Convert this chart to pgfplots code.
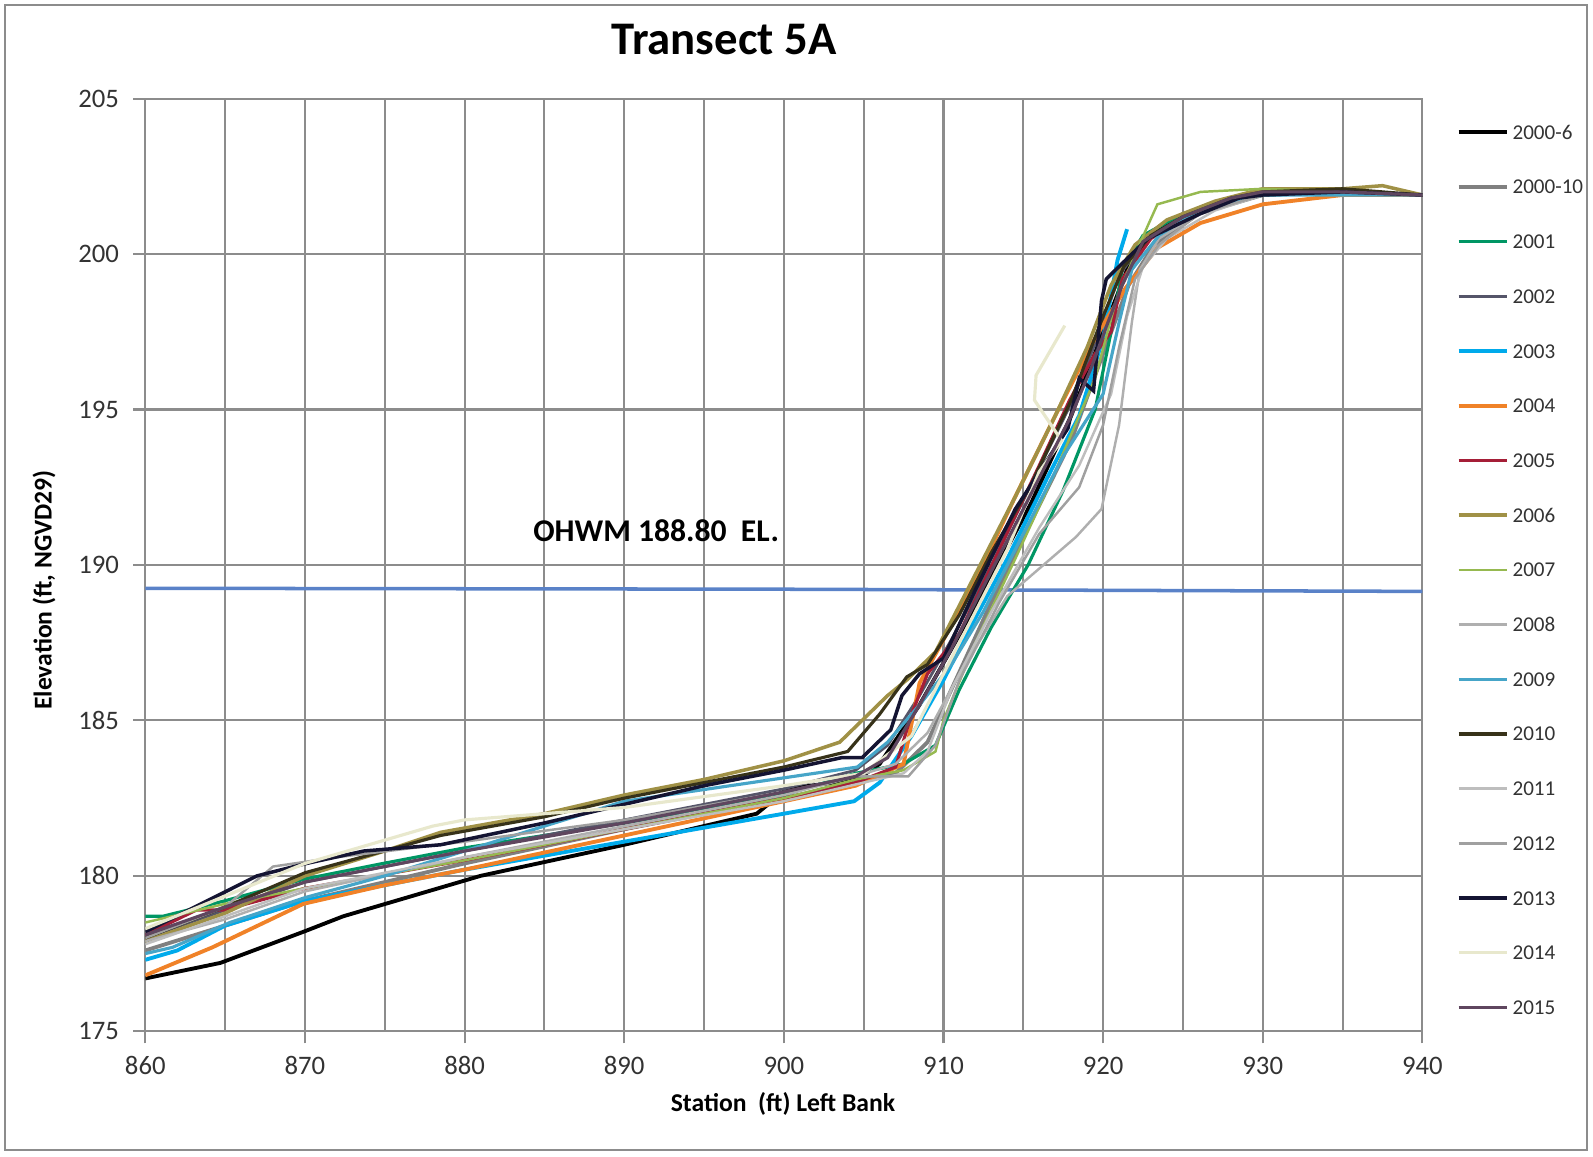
\documentclass[border=0pt]{standalone}
\usepackage{fontspec}
\setmainfont{Carlito}
\usepackage{pgfplots}
\pgfplotsset{compat=1.18}
\definecolor{cA}{RGB}{0,0,0}
\definecolor{cB}{RGB}{128,128,128}
\definecolor{cC}{RGB}{0,150,100}
\definecolor{cD}{RGB}{85,85,105}
\definecolor{cE}{RGB}{0,170,235}
\definecolor{cF}{RGB}{240,130,40}
\definecolor{cG}{RGB}{165,30,55}
\definecolor{cH}{RGB}{160,145,70}
\definecolor{cI}{RGB}{150,185,80}
\definecolor{cJ}{RGB}{175,175,175}
\definecolor{cK}{RGB}{70,165,200}
\definecolor{cL}{RGB}{55,50,25}
\definecolor{cM}{RGB}{190,190,190}
\definecolor{cN}{RGB}{160,160,160}
\definecolor{cO}{RGB}{20,20,50}
\definecolor{cP}{RGB}{232,232,205}
\definecolor{cQ}{RGB}{95,70,95}
\definecolor{ohwm}{RGB}{90,130,200}
\definecolor{gridc}{RGB}{140,140,140}
\begin{document}
\begin{tikzpicture}
\path[use as bounding box] (-14.53mm,-12.47mm) rectangle (144.77mm,103.13mm);
\draw[gridc, line width=0.6pt] (-14.0mm,-11.9mm) rectangle (144.2mm,102.6mm);
\begin{axis}[
  at={(0,0)}, anchor=south west,
  scale only axis, width=127.71mm, height=93.27mm,
  xmin=860, xmax=940, ymin=175, ymax=205,
  xtick={860,870,...,940}, minor xtick={865,875,...,935},
  ytick={175,180,...,205},
  grid=both,
  major grid style={gridc, line width=0.6pt},
  minor grid style={gridc, line width=0.6pt},
  axis line style={gridc, line width=0.6pt},
  tick style={gridc, line width=0.6pt},
  tick align=outside, major tick length=1.2mm, minor tick length=0pt,
  xtick pos=bottom, ytick pos=left,
  /pgf/number format/assume math mode=true,
  /pgf/number format/1000 sep={},
  tick label style={font=\fontsize{7.6}{9}\selectfont, text=black!80},
  xticklabel style={yshift=-0.1mm},
  yticklabel style={xshift=-0.2mm},
  title={\textbf{Transect 5A}},
  title style={at={(axis description cs:0.4531,1.0)}, anchor=center, yshift=3.76mm, font=\fontsize{13.3}{15}\selectfont},
  xlabel={\textbf{Station\ \ (ft) Left Bank}},
  xlabel style={at={(axis description cs:0.4993,-0.0779)}, anchor=center, font=\fontsize{7.3}{9}\selectfont},
  ylabel={\textbf{Elevation (ft, NGVD29)}},
  ylabel style={at={(axis description cs:-0.0793,0.4731)}, anchor=center, font=\fontsize{7.3}{9}\selectfont},
  legend cell align=left,
  legend style={at={(axis description cs:1.0263,0.9765)}, anchor=north west, draw=none, fill=none, inner sep=0pt,
    font=\fontsize{6}{7}\selectfont, text=black!80,
    nodes={inner sep=0pt, text height=1.8mm, text depth=0.4mm},
    row sep=3.27mm,
    /tikz/every odd column/.append style={column sep=0.4mm}},
  legend image code/.code={\draw[#1] (0mm,0mm) -- (4.8mm,0mm);},
]
\addplot[ohwm, line width=1pt, forget plot] coordinates {(860,189.25) (900,189.22) (940,189.15)};
\node[font=\fontsize{9}{10}\selectfont\bfseries] at (axis cs:892,191.1) {OHWM 188.80\ \ EL.};

% 2000-6
\addplot[cA, line width=1.1pt] coordinates {(860,176.7) (864.7,177.2) (869.9,178.2) (872.4,178.7) (881,180.0) (890,181.0) (898.3,182.0) (900.2,182.8) (904.6,183.1) (906,183.6) (908.5,185.5) (910.5,187.3) (913,189.6) (915.5,192) (918,194.8) (920,197.5) (921.5,199.5) (923,200.6) (925,201.2) (928,201.8) (930,201.9) (935,202) (940,201.9)};
\addlegendentry{2000-6}
% 2000-10
\addplot[cB, line width=1.1pt] coordinates {(860,177.6) (865,178.4) (870,179.2) (880,180.4) (890,181.5) (900,182.5) (904.5,183.0) (907,183.3) (909,184.3) (910.5,186.0) (913,188.8) (915.5,191.4) (918,194) (920,196.8) (921.6,199) (923.2,200.3) (926,201.3) (930,201.9) (935,202) (940,201.9)};
\addlegendentry{2000-10}
% 2001
\addplot[cC, line width=0.9pt] coordinates {(860,178.7) (861.1,178.7) (865,179.2) (870,179.9) (874.9,180.4) (880,180.9) (890,181.7) (900,182.6) (904.5,183.3) (907.5,183.6) (909.5,184.2) (911,186) (913,188) (915.3,190) (917.5,192.4) (919.5,195) (920.5,197.5) (921.2,199.5) (922.5,200.6) (925,201.3) (930,201.9) (935,202) (940,201.9)};
\addlegendentry{2001}
% 2002
\addplot[cD, line width=0.8pt] coordinates {(860,178.0) (865,178.9) (870,179.8) (880,180.8) (890,181.8) (900,182.8) (904.5,183.4) (906.5,184.2) (908.5,185.8) (910.5,187.6) (913,190) (915.5,192.6) (918,195.2) (919.8,197.5) (921,199.3) (922.5,200.4) (925,201.2) (928,201.8) (930,202) (935,202.0) (940,201.9)};
\addlegendentry{2002}
% 2003
\addplot[cE, line width=1.1pt] coordinates {(860,177.3) (862,177.6) (865,178.4) (870,179.2) (880,180.2) (890,181.1) (900,182.0) (904.4,182.4) (906,183.0) (908,184.5) (910,186.3) (912,188.3) (914,190.2) (916.5,192.8) (918.5,194.8) (920,197.3) (920.9,199.8) (921.5,200.8)};
\addlegendentry{2003}
% 2004
\addplot[cF, line width=1.1pt] coordinates {(860,176.8) (864.2,177.7) (869.9,179.1) (875,179.7) (880,180.2) (890,181.3) (900,182.4) (904.5,182.9) (907.5,183.6) (908.5,186.2) (910,187.6) (912,189.5) (914.5,192.2) (917,194.8) (919.5,197.3) (921.4,198.9) (923.4,200.2) (926.1,201.0) (930,201.6) (935,201.9) (940,201.9)};
\addlegendentry{2004}
% 2005
\addplot[cG, line width=0.9pt] coordinates {(860,178.1) (863.2,178.9) (864.9,178.9) (870,179.6) (880,180.5) (890,181.5) (900,182.5) (904.5,183.0) (907,183.5) (908,185.2) (909,186.5) (911,187.8) (913.5,190.5) (916,193.2) (917.9,195.3) (919.5,196.8) (920.5,197.5) (921.2,199.2) (923,200.5) (925.5,201.3) (930,202) (935,202) (940,201.9)};
\addlegendentry{2005}
% 2006
\addplot[cH, line width=1.0pt] coordinates {(860,177.9) (865,178.8) (870,180.0) (875,180.8) (878.5,181.4) (885,182.0) (890,182.6) (895,183.1) (900,183.7) (903.5,184.3) (904.9,185.0) (906.5,185.8) (907.7,186.3) (909.5,187.2) (912.3,190.0) (914.5,192.2) (917,194.8) (919,197) (920.5,199) (922,200.3) (924,201.1) (927,201.7) (930,202.1) (935,202.1) (937.5,202.2) (940,201.9)};
\addlegendentry{2006}
% 2007
\addplot[cI, line width=0.7pt] coordinates {(860,178.5) (865,179.1) (870,179.6) (880,180.5) (890,181.5) (900,182.5) (904.5,183.1) (907.5,183.4) (909.5,184.0) (910,185.0) (912,187.5) (914.5,190.2) (917,193) (919.5,196) (920.8,198.5) (922,200) (923.4,201.6) (926.1,202.0) (930,202.1) (935,202) (940,201.9)};
\addlegendentry{2007}
% 2008
\addplot[cJ, line width=0.7pt] coordinates {(860,177.9) (865,178.6) (870,179.5) (880,180.6) (890,181.6) (900,182.6) (904.5,183.2) (907,183.6) (909,184.6) (911,186.5) (914,189.0) (918.3,190.9) (919.9,191.8) (921,194.5) (921.8,197.8) (922.3,199.5) (923.5,200.5) (926,201.3) (930,201.9) (935,202) (940,201.9)};
\addlegendentry{2008}
% 2009
\addplot[cK, line width=0.9pt] coordinates {(860,177.5) (861.7,177.7) (865.3,178.5) (870,179.3) (875,180.0) (880,180.8) (890,182.4) (899.3,183.1) (904.6,183.5) (906.5,184.3) (908.5,185.5) (910.5,186.8) (912.5,188.5) (915,191) (917.5,193.5) (920,195.5) (921,197.8) (921.8,199.5) (923.5,200.6) (926,201.4) (930,201.9) (935,201.9) (940,201.9)};
\addlegendentry{2009}
% 2010
\addplot[cL, line width=0.9pt] coordinates {(860,178.0) (865,179.0) (870,180.1) (878.5,181.3) (885,181.9) (890,182.5) (895,183.0) (900,183.5) (904,184.0) (906,185.2) (907.7,186.4) (909,186.8) (911,188.4) (913,190.4) (915.5,192.6) (918,195.3) (920,198.0) (921.3,199.6) (923,200.6) (925,201.2) (928,201.8) (930,202) (935,202.1) (940,201.9)};
\addlegendentry{2010}
% 2011
\addplot[cM, line width=0.7pt] coordinates {(860,177.8) (865,178.7) (870,179.6) (880,180.6) (890,181.5) (900,182.4) (905,183.0) (907.5,183.3) (909,184.0) (910.5,186.0) (913,188.5) (916,191.2) (918.5,193.2) (920.5,195.5) (921.5,198) (922.5,199.6) (924,200.5) (927,201.4) (930,201.9) (935,202) (940,201.9)};
\addlegendentry{2011}
% 2012
\addplot[cN, line width=0.7pt] coordinates {(860,178.0) (865,179.0) (868,180.3) (872,180.6) (880,181.1) (890,181.8) (900,182.7) (904.5,183.2) (907.8,183.2) (909.5,184.2) (911,186.3) (913.5,188.8) (916,191) (918.5,192.5) (920,194.5) (921,197) (922,199.2) (923.5,200.3) (926,201.3) (930,201.9) (935,202) (940,201.9)};
\addlegendentry{2012}
% 2013
\addplot[cO, line width=1.0pt] coordinates {(860,178.2) (867,180.0) (870.1,180.4) (873.7,180.8) (878.5,181.0) (885,181.7) (890,182.3) (895,182.9) (900,183.4) (903.6,183.8) (904.9,183.8) (906.7,184.7) (907.4,185.8) (908.5,186.5) (910,187.0) (912,189.2) (914.5,191.8) (917.8,194.4) (918.5,196.0) (919.4,195.6) (919.9,198.5) (920.2,199.2) (922.8,200.5) (926.1,201.3) (928.5,201.8) (930,201.9) (935,202) (940,201.9)};
\addlegendentry{2013}
% 2014
\addplot[cP, line width=0.9pt] coordinates {(860,178.3) (870,180.4) (878,181.6) (880,181.8) (890,182.2) (900,182.9) (905,183.3) (908,184.5) (911,187.5) (914,190.5) (916,193.0) (917.4,194.0) (915.7,195.3) (915.8,196.1) (917.6,197.7)};
\addlegendentry{2014}
% 2015
\addplot[cQ, line width=0.9pt] coordinates {(860,178.1) (865,179.0) (870,179.8) (880,180.8) (890,181.7) (900,182.7) (904.5,183.2) (906.5,183.8) (908.5,185.5) (910.5,187.3) (913,189.8) (915.5,192.3) (918,194.8) (919.3,196.4) (920.3,197.8) (921.2,199.0) (922.5,200.4) (925,201.2) (928,201.8) (930,202) (935,202) (940,201.9)};
\addlegendentry{2015}
\end{axis}
\end{tikzpicture}
\end{document}
